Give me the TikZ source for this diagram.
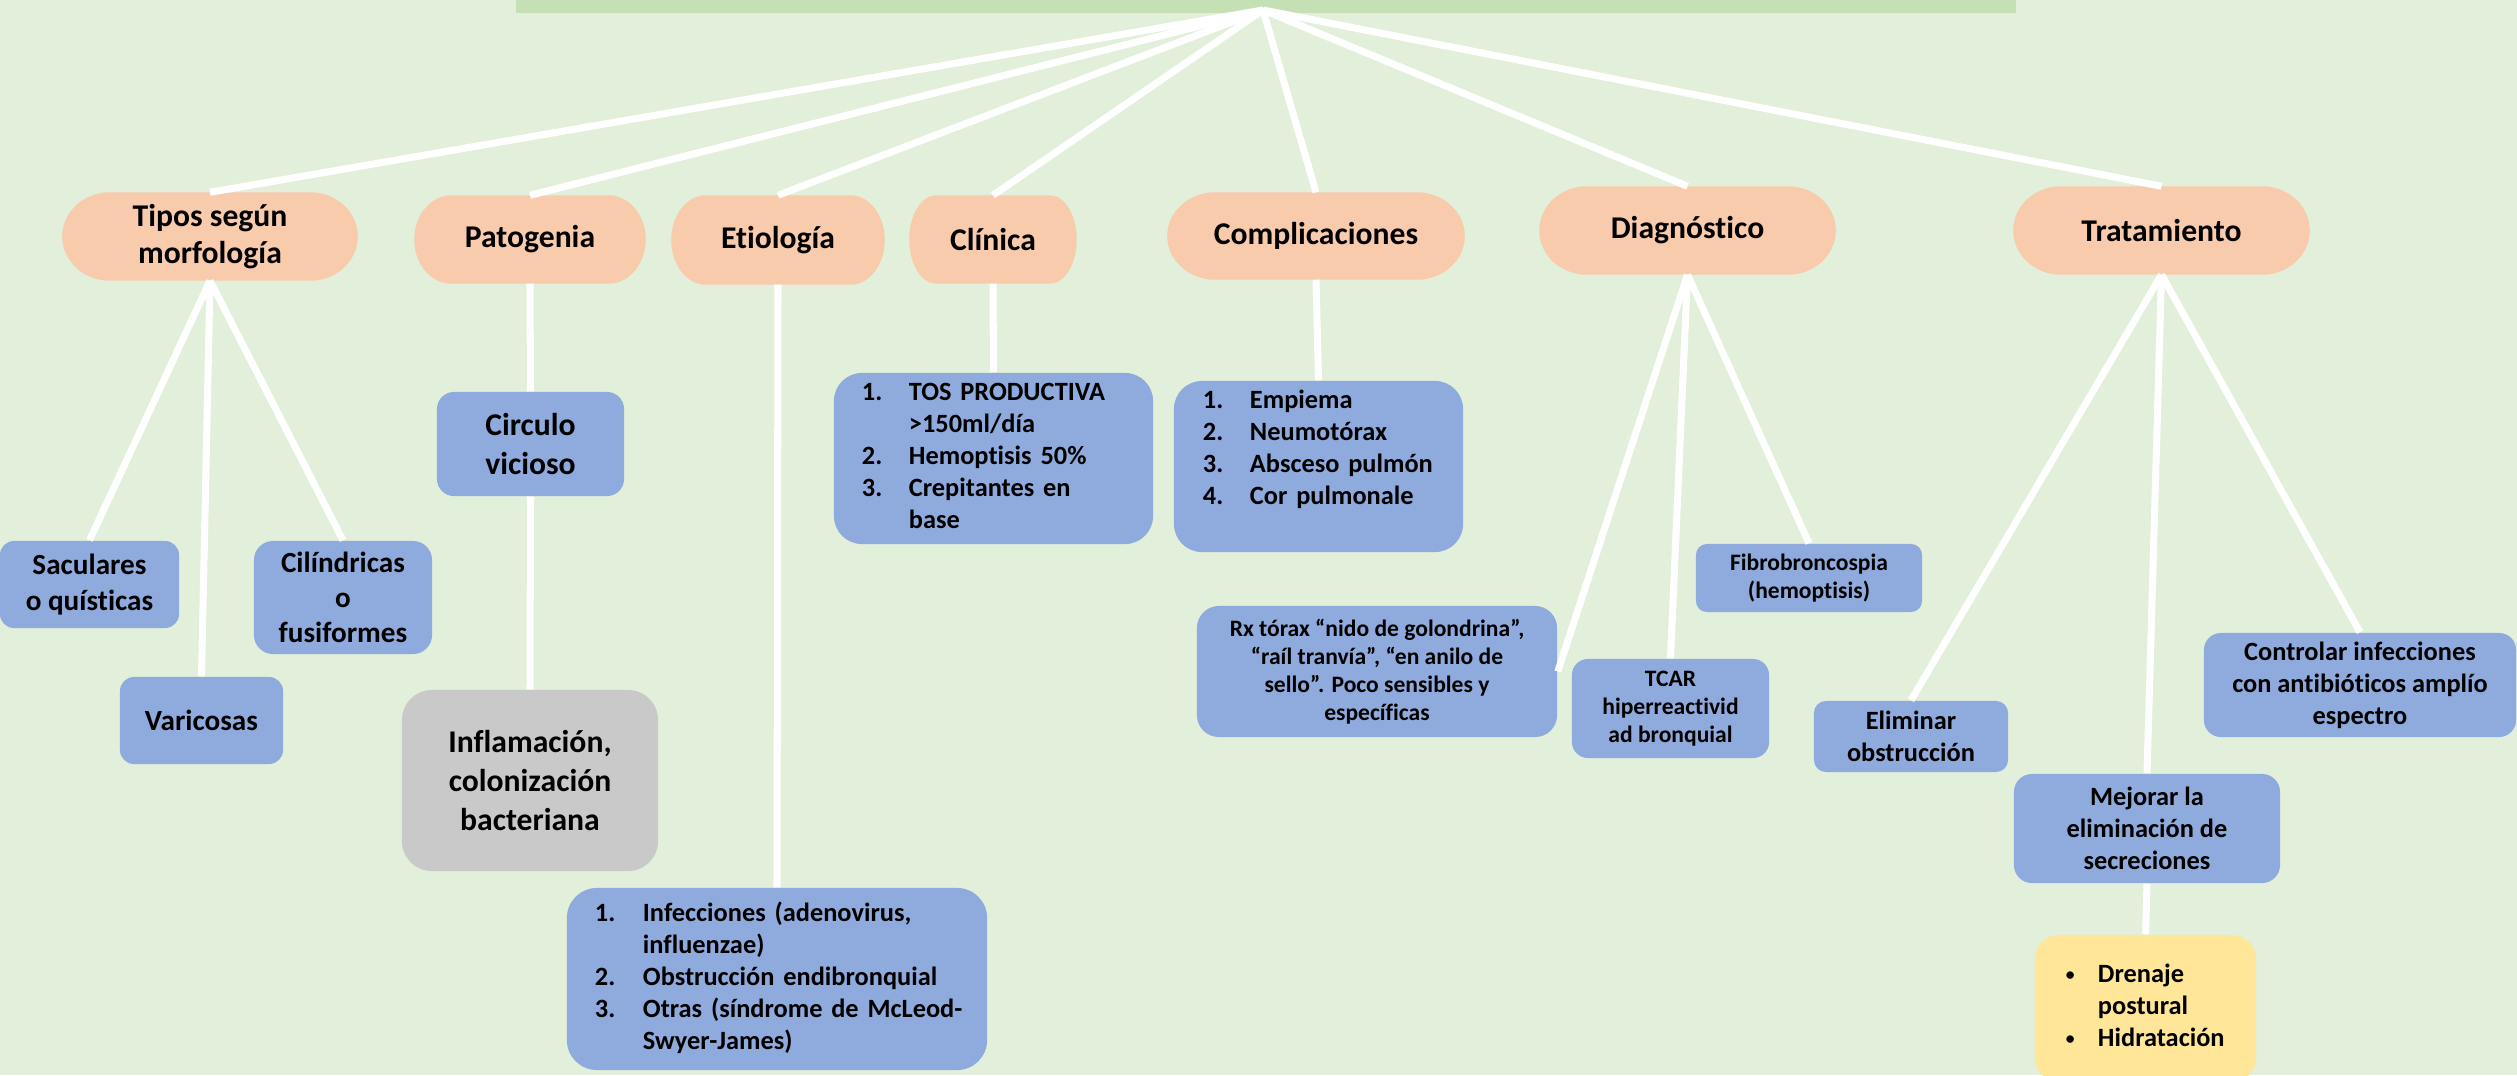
\documentclass[tikz,border=0pt]{standalone}
\usepackage{fontspec}
\setmainfont{Carlito}[Ligatures=NoCommon]
\usetikzlibrary{calc}
\definecolor{bgC}{HTML}{E2EFDA}
\definecolor{barC}{HTML}{C5E0B4}
\definecolor{orC}{HTML}{F8CBAD}
\definecolor{blC}{HTML}{8FAADC}
\definecolor{grC}{HTML}{C9C9C9}
\definecolor{yeC}{HTML}{FFE699}
\pgfdeclarelayer{bg}
\pgfsetlayers{bg,main}
\newcommand{\termfill}[1]{%
  \fill[orC] let \p1=(#1.north west), \p2=(#1.south east),
    \n1={0.161*(\x2-\x1)}, \n2={0.5*(\y1-\y2)} in
    (\x1+\n1,\y1) -- (\x2-\n1,\y1)
    arc[start angle=90, end angle=-90, x radius=\n1, y radius=\n2]
    -- (\x1+\n1,\y2)
    arc[start angle=270, end angle=90, x radius=\n1, y radius=\n2] -- cycle;}
\newcommand{\nlist}[2]{\begin{tabular}{@{}p{#1}@{}l@{}}#2\end{tabular}}
\newcommand{\smbul}{\raisebox{0.6pt}{\fontsize{5}{5}\selectfont •}}
\begin{document}
\begin{tikzpicture}[x=0.01cm, y=-0.01cm,
  term/.style={inner sep=0pt, align=center, font=\fontsize{9}{10.6}\selectfont\bfseries},
  rbox/.style={fill=blC, inner sep=0pt, align=center},
  link/.style={draw=white, line width=2pt},
  fa/.style={font=\fontsize{8.3}{10}\selectfont\bfseries},
  fb/.style={font=\fontsize{9}{11}\selectfont\bfseries},
  fc/.style={font=\fontsize{7.5}{9.1}\selectfont\bfseries},
  fd/.style={font=\fontsize{6.7}{8}\selectfont\bfseries}]
\useasboundingbox (0,0) rectangle (2517,1075);
\coordinate (hub) at (1263,10);

% top level
\node[term, minimum width=2.94cm, minimum height=0.87cm] (tipos) at (210,236.5) {Tipos según\\morfología};
\node[term, minimum width=2.30cm, minimum height=0.87cm] (pato) at (530,239.5) {Patogenia};
\node[term, minimum width=2.12cm, minimum height=0.88cm] (etio) at (778,240) {Etiología};
\node[term, minimum width=1.66cm, minimum height=0.87cm] (clin) at (993,239.5) {Clínica};
\node[term, minimum width=2.96cm, minimum height=0.86cm] (comp) at (1316,236) {Complicaciones};
\node[term, minimum width=2.95cm, minimum height=0.87cm] (diag) at (1687.5,230.5) {Diagnóstico};
\node[term, minimum width=2.95cm, minimum height=0.87cm] (trat) at (2161.5,230.5) {Tratamiento};

% tipos
\node[rbox, fa, rounded corners=0.14cm, minimum width=1.79cm, minimum height=0.87cm] (sac) at (89.5,584.5) {Saculares\\o quísticas};
\node[rbox, fa, rounded corners=0.14cm, minimum width=1.63cm, minimum height=0.87cm] (var) at (201.5,720.5) {Varicosas};
\node[rbox, fa, rounded corners=0.19cm, minimum width=1.78cm, minimum height=1.13cm] (cil) at (343,597.5) {Cilíndricas\\o\\fusiformes};

% patogenia
\node[rbox, fb, rounded corners=0.17cm, minimum width=1.87cm, minimum height=1.04cm] (circ) at (530.5,444) {Circulo\\vicioso};
\node[rbox, fill=grC, fb, rounded corners=0.30cm, minimum width=2.56cm, minimum height=1.81cm] (infl) at (530,780.5) {Inflamación,\\colonización\\bacteriana};

% etiologia
\node[rbox, fc, rounded corners=0.30cm, minimum width=4.20cm, minimum height=1.82cm, text width=3.64cm, inner xsep=0.28cm, align=left] (etl) at (777,979)
  {\nlist{0.48cm}{1. & Infecciones (adenovirus,\\ & influenzae)\\ 2. & Obstrucción endibronquial\\ 3. & Otras (síndrome de McLeod-\\ & Swyer-James)}};

% clinica
\node[rbox, fc, rounded corners=0.28cm, minimum width=3.19cm, minimum height=1.71cm, text width=2.63cm, inner xsep=0.28cm, align=left] (cll) at (993.5,458.5)
  {\nlist{0.47cm}{1. & TOS PRODUCTIVA\\ & >150ml/día\\ 2. & Hemoptisis 50\%\\ 3. & Crepitantes en\\ & base}};

% complicaciones
\node[rbox, fc, rounded corners=0.28cm, minimum width=2.89cm, minimum height=1.71cm, text width=2.31cm, inner xsep=0.29cm, align=left] (cpl) at (1318.5,466.5)
  {\nlist{0.47cm}{1. & Empiema\\ 2. & Neumotórax\\ 3. & Absceso pulmón\\ 4. & Cor pulmonale\\ & }};

% diagnostico
\node[rbox, fd, rounded corners=0.22cm, minimum width=3.60cm, minimum height=1.31cm] (rx) at (1377,671.5) {Rx tórax “nido de golondrina”,\\“raíl tranvía”, “en anilo de\\sello”. Poco sensibles y\\específicas};
\node[rbox, fd, rounded corners=0.16cm, minimum width=1.97cm, minimum height=0.99cm] (tcar) at (1670.5,708.5) {TCAR\\hiperreactivid\\ad bronquial};
\node[rbox, fd, rounded corners=0.11cm, minimum width=2.26cm, minimum height=0.68cm] (fib) at (1809,578) {Fibrobroncospia\\(hemoptisis)};

% tratamiento
\node[rbox, fc, rounded corners=0.12cm, minimum width=1.94cm, minimum height=0.71cm] (elim) at (1911,736.5) {Eliminar\\obstrucción};
\node[rbox, fc, rounded corners=0.18cm, minimum width=2.66cm, minimum height=1.09cm] (mej) at (2147,828.5) {Mejorar la\\eliminación de\\secreciones};
\node[rbox, fc, rounded corners=0.17cm, minimum width=3.12cm, minimum height=1.04cm] (ctrl) at (2360,685) {Controlar infecciones\\con antibióticos amplío\\espectro};
\node[rbox, fill=yeC, fc, rounded corners=0.24cm, minimum width=2.21cm, minimum height=1.47cm, text width=1.59cm, inner xsep=0.31cm, align=left] (dren) at (2145.5,1008.5)
  {\nlist{0.32cm}{\smbul & Drenaje\\ & postural\\ \smbul & Hidratación}};

% connectors
\foreach \nm in {tipos,pato,etio,clin,comp,diag,trat}
  \draw[link] (hub) -- (\nm.north);
\draw[link] (tipos.south) -- (sac.north);
\draw[link] (tipos.south) -- (var.north);
\draw[link] (tipos.south) -- (cil.north);
\draw[link] (pato.south) -- (circ.north);
\draw[link] (circ.south) -- (infl.north);
\draw[link] (etio.south) -- (etl.north);
\draw[link] (clin.south) -- (cll.north);
\draw[link] (comp.south) -- (cpl.north);
\draw[link] (diag.south) -- (rx.east);
\draw[link] (diag.south) -- (tcar.north);
\draw[link] (diag.south) -- (fib.north);
\draw[link] (trat.south) -- (elim.north);
\draw[link] (trat.south) -- (mej.north);
\draw[link] (trat.south) -- (ctrl.north);
\draw[link] (mej.south) -- (dren.north);

\begin{pgfonlayer}{bg}
  \fill[bgC] (0,0) rectangle (2517,1075);
  \fill[barC] (516,0) rectangle (2016,13);
  \termfill{tipos}
  \termfill{pato}
  \termfill{etio}
  \termfill{clin}
  \termfill{comp}
  \termfill{diag}
  \termfill{trat}
\end{pgfonlayer}
\end{tikzpicture}
\end{document}
